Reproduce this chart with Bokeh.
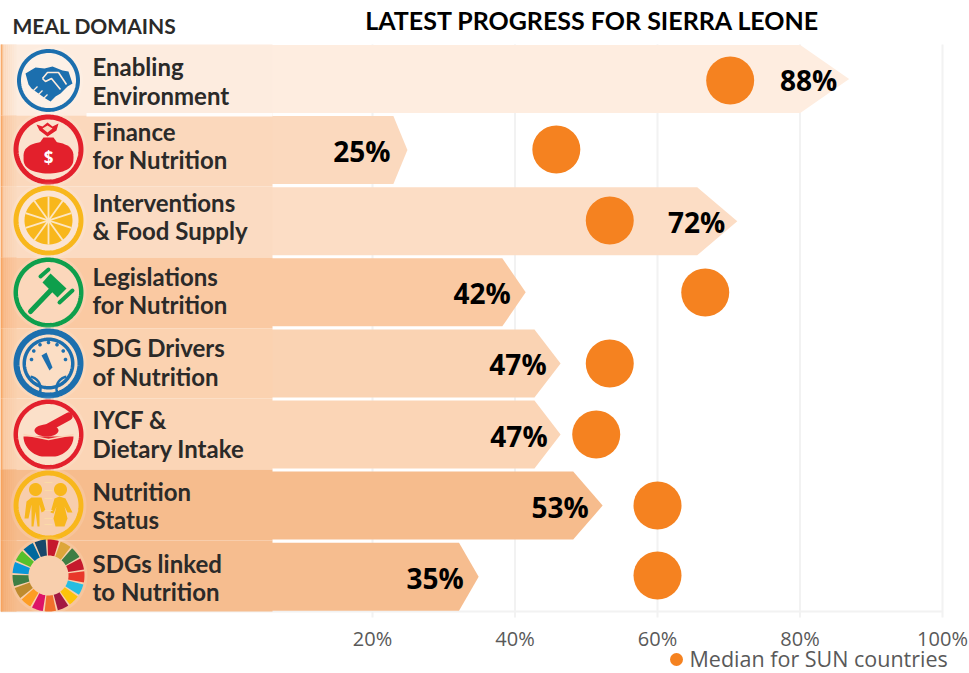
import numpy as np
from bokeh.plotting import figure
from bokeh.models import Range1d, LinearAxis, FixedTicker, CustomJSTickFormatter, ColumnDataSource
from bokeh.core.properties import value
from bokeh.embed import file_html
from bokeh.resources import INLINE

domains_line1 = ["Enabling", "Finance", "Interventions", "Legislations", "SDG Drivers", "IYCF &", "Nutrition", "SDGs linked"]
domains_line2 = ["Environment", "for Nutrition", "& Food Supply", "for Nutrition", "of Nutrition", "Dietary Intake", "Status", "to Nutrition"]
progress_labels = ["88%", "25%", "72%", "42%", "47%", "47%", "53%", "35%"]
bar_ends = [86.9, 24.9, 71.2, 41.5, 46.4, 46.4, 52.3, 34.9]
sun_median = [70.2, 45.8, 53.3, 66.7, 53.3, 51.4, 60.0, 60.0]
tick_values = [20, 40, 60, 80, 100]

row_colors = ["#FEEDE0", "#FBD9BE", "#FCDDC5", "#FAC9A2", "#FAD3B3", "#FBD5B6", "#F6BC8D", "#F6BD8F"]
panel_colors = ["#FDECDF", "#FBD8BC", "#FBDBC2", "#FAC9A2", "#FBD2B0", "#FBD5B6", "#F6BC8D", "#F6BD8F"]
edge_colors = ["#FAD0AC", "#F9BE8E", "#F9C79E", "#F8B27C", "#F8BC8A", "#F9C396", "#F4A86C", "#F4A96E"]
ORANGE = "#F58220"
BLUE = "#1C6FAE"; RED = "#E3202C"; YEL = "#F8B71C"; GRN = "#0E9F4C"
sdg_colors = ["#C5192D", "#DDA63A", "#3F7E44", "#C5192D", "#E8372A", "#26BDE2", "#FCC30B", "#A21942",
              "#F1702C", "#DD1367", "#FD9D24", "#BF8B2E", "#3F7E44", "#0A97D9", "#56C02B", "#00689D", "#19486A"]

W, HT = 969, 673
ZERO_PX, PX_PER_PCT = 229.5, 7.125
p = figure(width=W, height=HT, output_backend="svg", toolbar_location=None,
           x_range=Range1d(-ZERO_PX / PX_PER_PCT, (W - ZERO_PX) / PX_PER_PCT),
           y_range=Range1d(HT, 0), min_border=0, outline_line_color=None,
           x_axis_type=None, y_axis_type=None, background_fill_color="white")
p.xgrid.visible = False
p.ygrid.visible = False
p.extra_x_ranges["px"] = Range1d(0, W)

n = len(bar_ends)
centers = [78.5 + 71.1 * i for i in range(n)]
H = 34

# grid and axis
GRID = "#F2F2F2"
p.segment(tick_values, [44] * 5, tick_values, [617] * 5, line_color=GRID, line_width=2)
p.segment([0], [611], [942], [611], line_color=GRID, line_width=2, x_range_name="px")

ax = LinearAxis(ticker=FixedTicker(ticks=tick_values), fixed_location=611,
                formatter=CustomJSTickFormatter(code="return tick + '%'"),
                axis_line_color=None, major_tick_line_color=None, minor_tick_line_color=None,
                major_label_text_font="Open Sans", major_label_text_font_size="20px",
                major_label_text_color="#595959", major_label_standoff=7)
p.add_layout(ax, "below")

# arrow bars
for c, end, col in zip(centers, bar_ends, row_colors):
    sh = end * 0.921
    p.patch([0, sh, end, sh, 0], [c - H, c - H, c, c + H, c + H], fill_color=col, line_color=None)

# label panel
bounds = [44, 115, 186, 257, 328, 398, 469, 540, 611]
for i in range(n):
    top, bot = bounds[i], bounds[i + 1]
    p.quad(left=[0], right=[272], top=[top], bottom=[bot], fill_color=panel_colors[i],
           line_color=None, x_range_name="px")
    a = np.array([int(edge_colors[i][k:k + 2], 16) for k in (1, 3, 5)], float)
    b = np.array([int(panel_colors[i][k:k + 2], 16) for k in (1, 3, 5)], float)
    for x in np.arange(0, 16, 2):
        t = (x / 16) ** 0.7
        c_ = a + (b - a) * t
        p.quad(left=[int(x)], right=[int(x) + 2], top=[top], bottom=[bot],
               fill_color="#%02X%02X%02X" % tuple(int(v) for v in c_), line_color=None, x_range_name="px")
    p.quad(left=[0], right=[2], top=[top], bottom=[bot], fill_color="#F7A35C", fill_alpha=0.8,
           line_color=None, x_range_name="px")
p.quad(left=[86], right=[272], top=[b_ - 2.5 for b_ in bounds[1:-1]], bottom=[b_ + 1 for b_ in bounds[1:-1]],
       fill_color="white", line_color=None, fill_alpha=0.9, x_range_name="px")


def px_patch(xs, ys, color, alpha=1.0):
    p.patch(list(xs), list(ys), fill_color=color, fill_alpha=alpha, line_color=None, x_range_name="px")


def px_poly(points, color, alpha=1.0):
    px_patch([q[0] for q in points], [q[1] for q in points], color, alpha)


def disc(cx, cy, r, color, alpha=1.0, ry=None):
    t = np.linspace(0, 2 * np.pi, 72)
    px_patch(cx + r * np.cos(t), cy + (ry or r) * np.sin(t), color, alpha)


def ring(cx, cy, r, w, color):
    t = np.linspace(0, 2 * np.pi, 120)
    p.line(cx + (r - w / 2) * np.cos(t), cy + (r - w / 2) * np.sin(t), line_color=color, line_width=w,
           x_range_name="px")


def bar_line(x0, y0, x1, y1, w, color, cap="round"):
    p.line([x0, x1], [y0, y1], line_color=color, line_width=w, line_cap=cap, x_range_name="px")


icon_x = 48
icon_y = [80, 149, 220, 292, 363, 434, 505, 575]
icon_r = [31.5, 35, 35, 35, 35, 35, 35, 36]
icon_w = [4, 5, 5, 4.5, 6, 4.5, 5, 0]
icon_c = [BLUE, RED, YEL, GRN, BLUE, RED, YEL, None]
for yy, r_, w_, c_ in zip(icon_y, icon_r, icon_w, icon_c):
    disc(icon_x, yy, r_ + 3, "#FFFFFF", 0.12)
    disc(icon_x, yy, r_, "#FFFFFF", 0.18)
    if c_:
        ring(icon_x, yy, r_, w_, c_)

# 1 handshake
px_poly([(25, 73), (35, 67), (44, 68), (52, 66), (62, 70), (68, 71), (72, 83), (67, 86), (60, 93), (55, 96),
         (50, 101), (45, 98), (38, 93), (31, 88), (28, 84)], BLUE)
p.line([42, 47, 58, 66], [78, 72, 72, 84], line_color="#FDEBDC", line_width=1.6, x_range_name="px")
p.line([42, 45, 51, 60], [78, 81, 78, 89], line_color="#FDEBDC", line_width=1.6, x_range_name="px")
for xa, ya in ((36, 87), (41, 91), (46, 95)):
    bar_line(xa - 3, ya + 3, xa + 1, ya - 1, 1.3, "#FDEBDC", "butt")

# 2 money bag
t = np.linspace(0, 2 * np.pi, 60)
px_patch(48 + 25 * np.cos(t), 157 + 16 * np.sign(np.sin(t)) * np.abs(np.sin(t)) ** 0.7, RED)
px_poly([(38, 144), (58, 144), (53, 137), (43, 137)], RED)
px_poly([(36, 124), (42, 126), (47, 122), (52, 126), (58, 123), (56, 130), (47, 136), (39, 130)], RED)
px_poly([(42, 128), (47, 125), (52, 128), (47, 132)], "#FBD8BC")
p.text([48], [157], text=["$"], text_color="white", text_font_size="17px", text_font=value("Open Sans"),
       text_font_style="bold", text_align="center", text_baseline="middle", x_range_name="px")

# 3 citrus
disc(48, 220, 24, YEL)
for ang in np.arange(0, 180, 36):
    a_ = np.radians(ang + 18 + 72)
    bar_line(48 - 24 * np.cos(a_), 220 - 24 * np.sin(a_), 48 + 24 * np.cos(a_), 220 + 24 * np.sin(a_), 1.8, "#FDE6C2", "butt")
disc(48, 220, 2.5, "#FDE6C2")

# 4 gavel
bar_line(30, 311, 52, 288, 5, GRN)
px_poly([(50, 273), (66, 288), (57, 297), (42, 282)], GRN)
bar_line(40, 276, 48, 269, 4, GRN)
bar_line(59, 302, 72, 290, 4, GRN)

# 5 gauge
ring(48, 363, 26, 3.5, BLUE)
for ang in np.arange(-180, 10, 30):
    a_ = np.radians(ang)
    disc(48 + 17 * np.cos(a_), 359 + 17 * np.sin(a_), 1.8, BLUE)
px_poly([(41, 355), (46, 352), (52, 367), (49, 370)], BLUE)
t = np.radians(np.linspace(-80, 30, 20))
p.line(28 + 12 * np.cos(t), 388 + 12 * np.sin(t), line_color=BLUE, line_width=2.5, x_range_name="px")
p.line(68 - 12 * np.cos(t), 388 + 12 * np.sin(t), line_color=BLUE, line_width=2.5, x_range_name="px")

# 6 mortar and pestle
t = np.linspace(0, np.pi, 30)
px_patch(48 + 25 * np.cos(t), 436 + np.minimum(21 * np.sin(t), 20), RED)
bar_line(46, 428, 68, 416, 8, RED)
disc(46, 430, 12, RED, ry=6)
p.line([23, 48, 73], [434, 439, 434], line_color="#FBD5B6", line_width=1.6, x_range_name="px")

# 7 two children
for cx in (35, 60):
    disc(cx, 489, 6.5, YEL)
px_poly([(24, 518), (26, 501), (31, 497), (41, 497), (45, 510), (41, 512), (39, 504), (39, 526), (37, 526),
         (35, 511), (33, 526), (31, 526), (31, 504), (28, 518)], YEL)
px_poly([(50, 512), (54, 498), (59, 496), (65, 498), (72, 512), (67, 512), (64, 506), (67, 518), (64, 526),
         (55, 526), (53, 518), (56, 506), (53, 513)], YEL)
for yy in (482, 490, 498, 510, 518, 524):
    bar_line(44, yy, 52, yy, 1, "#FADBA8", "butt")

# 8 SDG wheel
m = len(sdg_colors)
gap = np.radians(3.0)
for i, col in enumerate(sdg_colors):
    a0 = -np.pi / 2 + i * 2 * np.pi / m + gap / 2 - np.radians(3)
    a1 = a0 + 2 * np.pi / m - gap
    t = np.linspace(a0, a1, 8)
    px_patch(np.r_[48 + 36 * np.cos(t), 48 + 20 * np.cos(t[::-1])],
             np.r_[575 + 36 * np.sin(t), 575 + 20 * np.sin(t[::-1])], col)

# row labels
text_dy1 = [-12.5, -19, -19, -16, -16, -15, -14, -13]
text_dy2 = [16.5, 9, 9, 12, 13, 14, 14, 15]
LBL = dict(text_color="#2B2A29", text_font=value("Lato"), text_font_style="bold", text_font_size="24px",
           text_baseline="middle", x_range_name="px")
p.text([92] * n, [c + d for c, d in zip(centers, text_dy1)], text=domains_line1, **LBL)
p.text([92] * n, [c + d for c, d in zip(centers, text_dy2)], text=domains_line2, **LBL)

# medians
p.scatter(sun_median, icon_y, size=48, color=ORANGE, line_color=None)

# progress labels
label_pad = [-12, -17, -12, -15, -14, -13, -14, -15]
src = ColumnDataSource(dict(x=bar_ends, y=[c + 1 for c in centers], t=progress_labels, o=label_pad))
p.text("x", "y", text="t", x_offset="o", source=src, text_align="right", text_baseline="middle",
       text_color="black", text_font=value("Open Sans"), text_font_style="bold", text_font_size="28px")

# titles
p.text([12], [25], text=["MEAL DOMAINS"], text_font=value("Lato"), text_font_style="bold", text_font_size="21px",
       text_color="#2B2A29", text_baseline="middle", x_range_name="px")
p.text([592], [19], text=["LATEST PROGRESS FOR SIERRA LEONE"], text_font=value("Lato"), text_font_style="bold",
       text_font_size="25px", text_color="black", text_align="center", text_baseline="middle", x_range_name="px")

# legend
p.scatter([676], [659], size=13, color=ORANGE, line_color=None, x_range_name="px")
p.text([689], [658], text=["Median for SUN countries"], text_font=value("Open Sans"), text_font_size="21.5px",
       text_color="#595959", text_baseline="middle", x_range_name="px")

open("out.html", "w").write(file_html(p, INLINE))
